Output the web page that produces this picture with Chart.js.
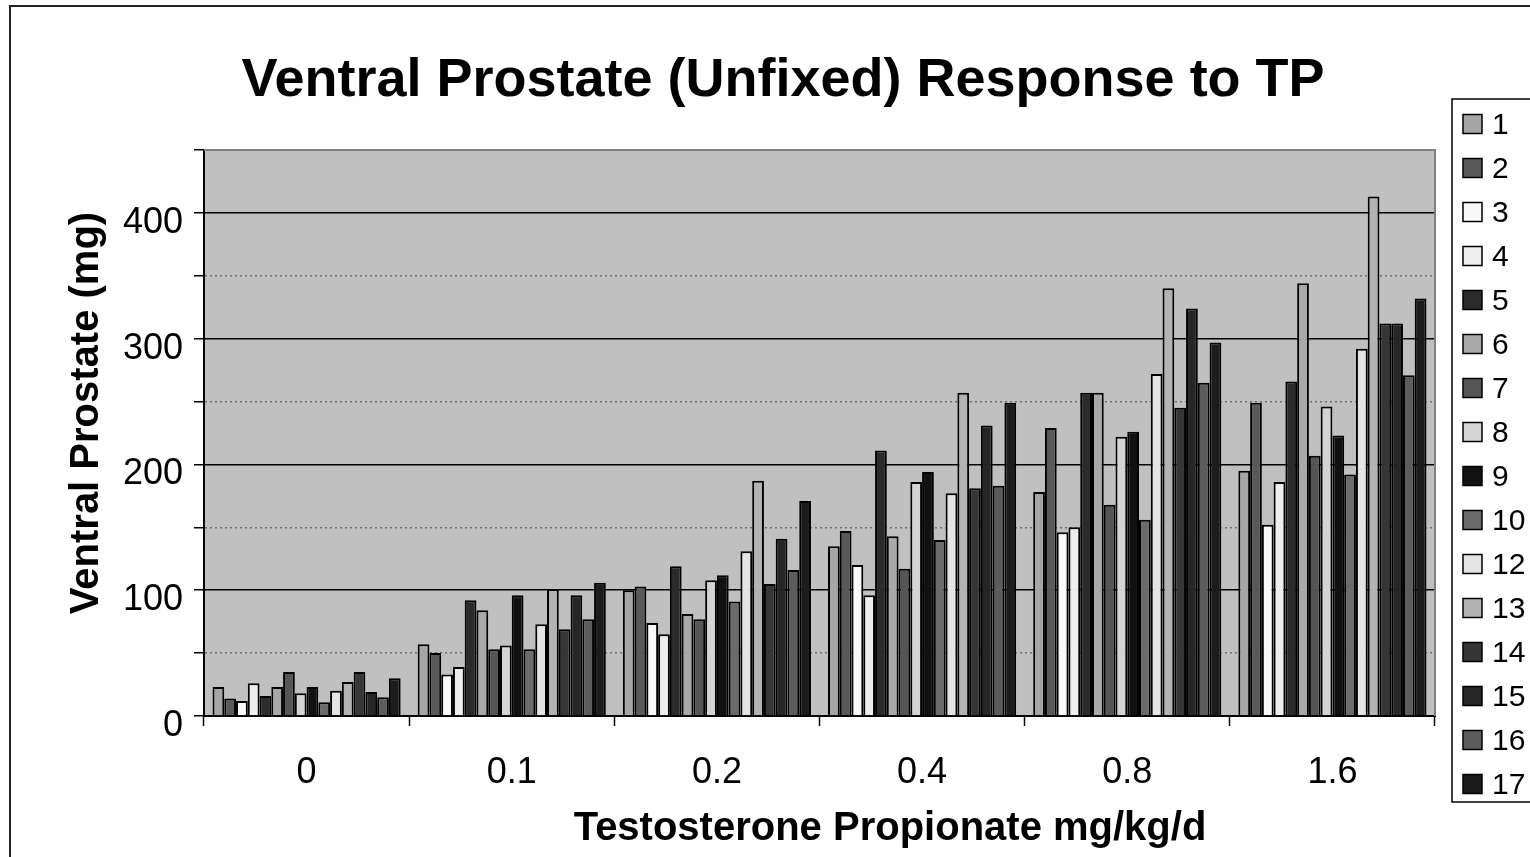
<!DOCTYPE html>
<html>
<head>
<meta charset="utf-8">
<title>Ventral Prostate (Unfixed) Response to TP</title>
<script src="https://cdn.jsdelivr.net/npm/chart.js@4.4.0/dist/chart.umd.min.js"></script>
<style>
  html, body { margin: 0; padding: 0; background: #fff; }
  #wrap { width: 1530px; height: 857px; }
</style>
</head>
<body>
<div id="wrap"><canvas id="display1" width="1530" height="857"></canvas></div>
<script>
(function() {
  'use strict';

  // 投与量 (mg/kg/d)
  var doses = ['0', '0.1', '0.2', '0.4', '0.8', '1.6'];

  // 個体ごとの前立腺重量 (mg)
  var s1  = [23,  57, 100, 135, 178, 195];
  var s2  = [14,  50, 103, 147, 229, 249];
  var s3  = [12,  33,  74, 120, 146, 152];
  var s4  = [26,  39,  65,  96, 150, 186];
  var s5  = [16,  92, 119, 211, 257, 266];
  var s6  = [23,  84,  81, 143, 257, 344];
  var s7  = [35,  53,  77, 117, 168, 207];
  var s8  = [18,  56, 108, 186, 222, 246];
  var s9  = [23,  96, 112, 194, 226, 223];
  var s10 = [11,  53,  91, 140, 156, 192];
  var s12 = [20,  73, 131, 177, 272, 292];
  var s13 = [27, 101, 187, 257, 340, 413];
  var s14 = [35,  69, 105, 181, 245, 312];
  var s15 = [19,  96, 141, 231, 324, 312];
  var s16 = [15,  77, 116, 183, 265, 271];
  var s17 = [30, 106, 171, 249, 297, 332];

  var seriesNames  = ['1', '2', '3', '4', '5', '6', '7', '8', '9', '10', '12', '13', '14', '15', '16', '17'];
  var seriesValues = [s1, s2, s3, s4, s5, s6, s7, s8, s9, s10, s12, s13, s14, s15, s16, s17];

  // 色 (グレースケール)
  var seriesColors = ['#a6a6a6', '#595959', '#f9f9f9', '#eeeeee', '#2b2b2b', '#a9a9a9', '#555555', '#d4d4d4',
                      '#111111', '#6b6b6b', '#e4e4e4', '#b3b3b3', '#363636', '#262626', '#5c5c5c', '#1c1c1c'];

  var chartTitle = 'Ventral Prostate (Unfixed) Response to TP';
  var xTitle = 'Testosterone Propionate mg/kg/d';
  var yTitle = 'Ventral Prostate (mg)';

  var FONT = '"Liberation Sans", Arial, sans-serif';

  // 枠・背景・タイトル・凡例を描く
  var decoPlugin = {
    id: 'deco',
    beforeDraw: function(chart) {
      var c = chart.ctx, a = chart.chartArea;
      c.save();
      c.fillStyle = '#fff';
      c.fillRect(0, 0, chart.width, chart.height);
      c.fillStyle = '#c0c0c0';
      c.fillRect(a.left, a.top, a.right - a.left, a.bottom - a.top);
      c.strokeStyle = '#222';
      c.lineWidth = 2;
      c.strokeRect(10, 6, 1560, 900);
      c.restore();
    },
    afterDraw: function(chart) {
      var c = chart.ctx, a = chart.chartArea;
      c.save();

      // プロットエリアの上と右の枠
      c.strokeStyle = '#808080';
      c.lineWidth = 2;
      c.beginPath();
      c.moveTo(a.left, a.top);
      c.lineTo(a.right, a.top);
      c.lineTo(a.right, a.bottom);
      c.stroke();

      // タイトル
      c.fillStyle = '#000';
      c.textAlign = 'center';
      c.textBaseline = 'alphabetic';
      c.font = 'bold 54px ' + FONT;
      c.fillText(chartTitle, 783, 96);

      c.font = 'bold 40px ' + FONT;
      c.fillText(xTitle, 890, 840);

      c.save();
      c.translate(98, 413);
      c.rotate(-Math.PI / 2);
      c.fillText(yTitle, 0, 0);
      c.restore();

      // 凡例
      c.strokeStyle = '#000';
      c.lineWidth = 1.5;
      c.strokeRect(1452, 99, 120, 703);

      c.textAlign = 'left';
      c.textBaseline = 'middle';
      c.font = '30px ' + FONT;
      var ds = chart.data.datasets;
      for (var i = 0; i < ds.length; i++) {
        var cy = 124 + i * 44;
        c.fillStyle = ds[i].backgroundColor;
        c.fillRect(1463, cy - 9.5, 19, 19);
        c.strokeRect(1463, cy - 9.5, 19, 19);
        c.fillStyle = '#000';
        c.fillText(ds[i].label, 1492, cy + 2);
      }
      c.restore();
    }
  };

  window.addEventListener('load', function() {

    var datasets = [];
    for (var i = 0; i < seriesNames.length; i++) {
      datasets.push({
        label: seriesNames[i],
        data: seriesValues[i],
        backgroundColor: seriesColors[i],
        borderColor: '#000',
        borderWidth: 2,
        categoryPercentage: 0.917,
        barPercentage: 1.0
      });
    }

    var ctx = document.getElementById('display1').getContext('2d');

    var myChart = new Chart(ctx, {
      type: 'bar',
      data: {
        labels: doses,
        datasets: datasets
      },
      plugins: [decoPlugin],
      options: {
        responsive: false,
        animation: false,
        devicePixelRatio: 1,
        layout: { padding: { left: 0, top: 150, right: 95, bottom: 0 } },
        plugins: {
          legend: { display: false },
          title: { display: false },
          tooltip: { enabled: false }
        },
        scales: {
          x: {
            afterFit: function(scale) { scale.height = 141; },
            grid: {
              drawOnChartArea: false,
              drawTicks: true,
              tickLength: 10,
              tickColor: '#000',
              tickWidth: 1.5,
              offset: true
            },
            border: { display: true, color: '#000', width: 2 },
            ticks: {
              color: '#000',
              padding: 25,
              font: { family: FONT, size: 36 }
            }
          },
          y: {
            min: 0,
            max: 450,
            afterFit: function(scale) { scale.width = 204; },
            grid: {
              color: function(c) {
                if (!c.tick) return '#000';
                if (c.tick.value === 450) return 'rgba(0,0,0,0)';
                return c.tick.value % 100 === 0 ? '#000' : '#6e6e6e';
              },
              lineWidth: 1.5,
              tickLength: 10,
              tickColor: '#000',
              tickWidth: 1.5
            },
            border: {
              display: true,
              color: '#000',
              width: 2,
              dash: function(c) {
                if (c.tick && c.tick.value % 100 !== 0) return [2, 3];
                return [];
              }
            },
            ticks: {
              stepSize: 50,
              color: '#000',
              padding: 11,
              labelOffset: 10,
              font: { family: FONT, size: 36 },
              callback: function(v) { return v % 100 === 0 ? v : ''; }
            }
          }
        }
      }
    });
  });

})();
</script>
</body>
</html>
